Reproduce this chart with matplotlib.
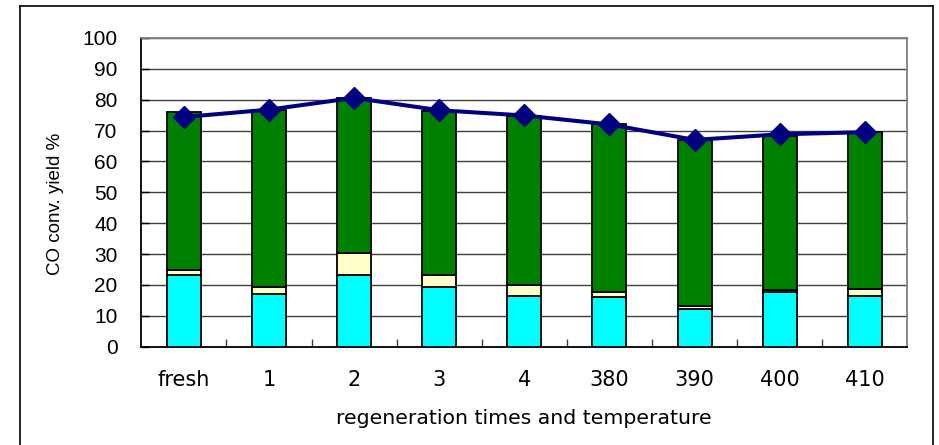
import matplotlib.pyplot as plt
import numpy as np
from matplotlib.lines import Line2D

# --- Data ---
categories = ['fresh', '1', '2', '3', '4', '380', '390', '400', '410']
cyan_part = [23.2, 17.1, 23.2, 19.2, 16.4, 16.1, 12.3, 17.7, 16.4]
yellow_part = [1.6, 2.1, 7.0, 4.1, 3.7, 1.6, 1.0, 0.6, 2.4]
green_part = [51.2, 57.5, 50.4, 53.0, 54.7, 54.3, 53.7, 50.1, 50.7]
co_yield = [74.4, 76.8, 80.6, 76.6, 74.9, 72.0, 67.0, 68.8, 69.5]

W, H = 939, 445
fig = plt.figure(figsize=(W / 100, H / 100), dpi=100)
ax = fig.add_axes([141.3 / W, 1 - 346.7 / H, 766 / W, (346.7 - 38) / H])

x = np.arange(len(categories))
cyan = np.array(cyan_part)
yellow = np.array(yellow_part)
green = np.array(green_part)

bw = 0.4
ax.bar(x, cyan, bw, color='#00FFFF', edgecolor='black', linewidth=1.3, zorder=3)
ax.bar(x, yellow, bw, bottom=cyan, color='#FFFFCC', edgecolor='black', linewidth=1.3, zorder=3)
ax.bar(x, green, bw, bottom=cyan + yellow, color='#008000', edgecolor='black', linewidth=1.3, zorder=3)
ax.plot(x, co_yield, color='#000080', linewidth=2.9, marker='D', markersize=11, zorder=4)

ax.set_xlim(-0.5, len(categories) - 0.5)
ax.set_ylim(0, 100)
ax.set_yticks(np.arange(0, 101, 10))
ax.grid(axis='y', color='#404040', linewidth=1.0, zorder=0)

# category boundary ticks pointing inward, labels on centres
ax.set_xticks(np.arange(0.5, len(categories) - 0.5, 1))
ax.set_xticklabels([])
ax.set_xticks(x, minor=True)
ax.set_xticklabels(categories, minor=True, fontsize=15, family='DejaVu Sans')
ax.tick_params(axis='x', which='major', direction='in', length=6, width=1, color='#404040')
ax.tick_params(axis='x', which='minor', length=0, pad=17)
ax.tick_params(axis='y', direction='in', length=6, width=1, labelsize=15, pad=17)
for lab in ax.get_yticklabels():
    lab.set_family('Liberation Sans')

for side in ['left', 'bottom']:
    ax.spines[side].set_color('black')
    ax.spines[side].set_linewidth(1.3)
for side in ['right', 'top']:
    ax.spines[side].set_color('#808080')
    ax.spines[side].set_linewidth(1.3)

fig.text(55 / W, 1 - 204 / H, 'CO conv. yield %', rotation=90, ha='center', va='center',
         fontsize=13.5, family='Liberation Sans')
fig.text(524 / W, 1 - 418 / H, 'regeneration times and temperature', ha='center', va='center',
         fontsize=14.7, family='DejaVu Sans')

# outer chart frame
def px(xp, yp):
    return xp / W, 1 - yp / H

for (x0, y0), (x1, y1) in [((19.5, 6), (932.7, 6)), ((19.5, 6), (19.5, 450)),
                           ((932.7, 6), (932.7, 450))]:
    a, b = px(x0, y0)
    c, d = px(x1, y1)
    fig.add_artist(Line2D([a, c], [b, d], color='black', linewidth=1.2))

fig.savefig('out.png', dpi=100)
